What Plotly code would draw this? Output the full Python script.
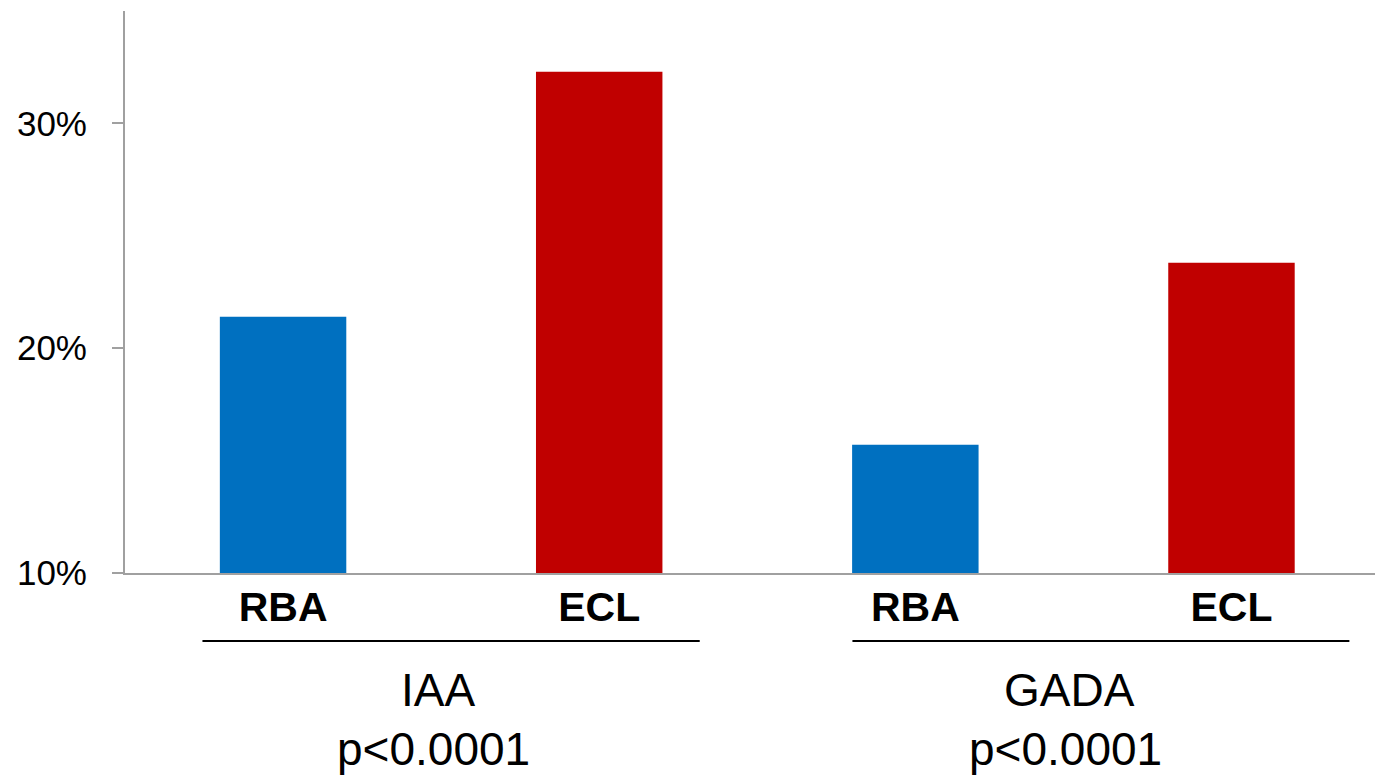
import plotly.graph_objects as go

groups = ["IAA", "GADA"]
p_values = ["p<0.0001", "p<0.0001"]
methods = ["RBA", "ECL"]
rba_values = [21.4, 15.7]
ecl_values = [32.3, 23.8]
y_ticks = [10, 20, 30]
baseline = 10
colors = {"RBA": "#0070C0", "ECL": "#C00000"}

cats = []
vals = []
cols = []
labels = []
for gi, g in enumerate(groups):
    for m, v in zip(methods, [rba_values[gi], ecl_values[gi]]):
        cats.append(f"{g}-{m}")
        vals.append(v)
        cols.append(colors[m])
        labels.append(m)

FONT = "Liberation Sans, Arial, sans-serif"

fig = go.Figure()
fig.add_trace(go.Bar(
    x=cats, y=[v - baseline for v in vals], base=baseline,
    marker=dict(color=cols, line=dict(width=0)),
    width=0.4, showlegend=False, hoverinfo="skip",
))

fig.update_layout(
    width=1375, height=775,
    margin=dict(l=125, r=0, t=11, b=202),
    plot_bgcolor="white", paper_bgcolor="white",
    font=dict(family=FONT, color="black"),
)
fig.update_xaxes(
    type="category", categoryorder="array", categoryarray=cats,
    tickvals=cats, ticktext=[f"<b>{l}</b>" for l in labels],
    tickfont=dict(size=41, family=FONT, color="black"),
    range=[-0.5, 3.454],
    showline=True, linecolor="#A0A0A0", linewidth=2,
    ticks="", showgrid=False, zeroline=False,
    ticklabelstandoff=-3,
)
fig.update_yaxes(
    range=[10, 35], tickvals=y_ticks, ticktext=[f"{t}%" for t in y_ticks],
    tickfont=dict(size=35, family=FONT, color="black"),
    showline=True, linecolor="#A0A0A0", linewidth=2,
    ticks="outside", ticklen=11, tickwidth=2, tickcolor="#A0A0A0",
    showgrid=False, zeroline=False, ticklabelstandoff=18,
)

# underline extents relative to each group's centre (category units)
underline_span = [(-0.755, 0.818), (-0.699, 0.873)]

for gi, g in enumerate(groups):
    center = 2 * gi + 0.5
    a, b = underline_span[gi]
    fig.add_shape(type="line", xref="x", yref="paper",
                  x0=center + a, x1=center + b, y0=-0.121, y1=-0.121,
                  line=dict(color="black", width=2))
    fig.add_annotation(x=center - 0.011, y=-0.209, xref="x", yref="paper",
                       text=g, showarrow=False, yanchor="middle",
                       font=dict(size=46, family=FONT, color="black"))
    fig.add_annotation(x=center - 0.024, y=-0.313, xref="x", yref="paper",
                       text=p_values[gi], showarrow=False, yanchor="middle",
                       font=dict(size=46, family=FONT, color="black"))

fig.write_html(
    "out.html",
    config={"displayModeBar": False},
    post_script="document.body.style.margin='0';document.body.style.overflow='hidden';",
)
